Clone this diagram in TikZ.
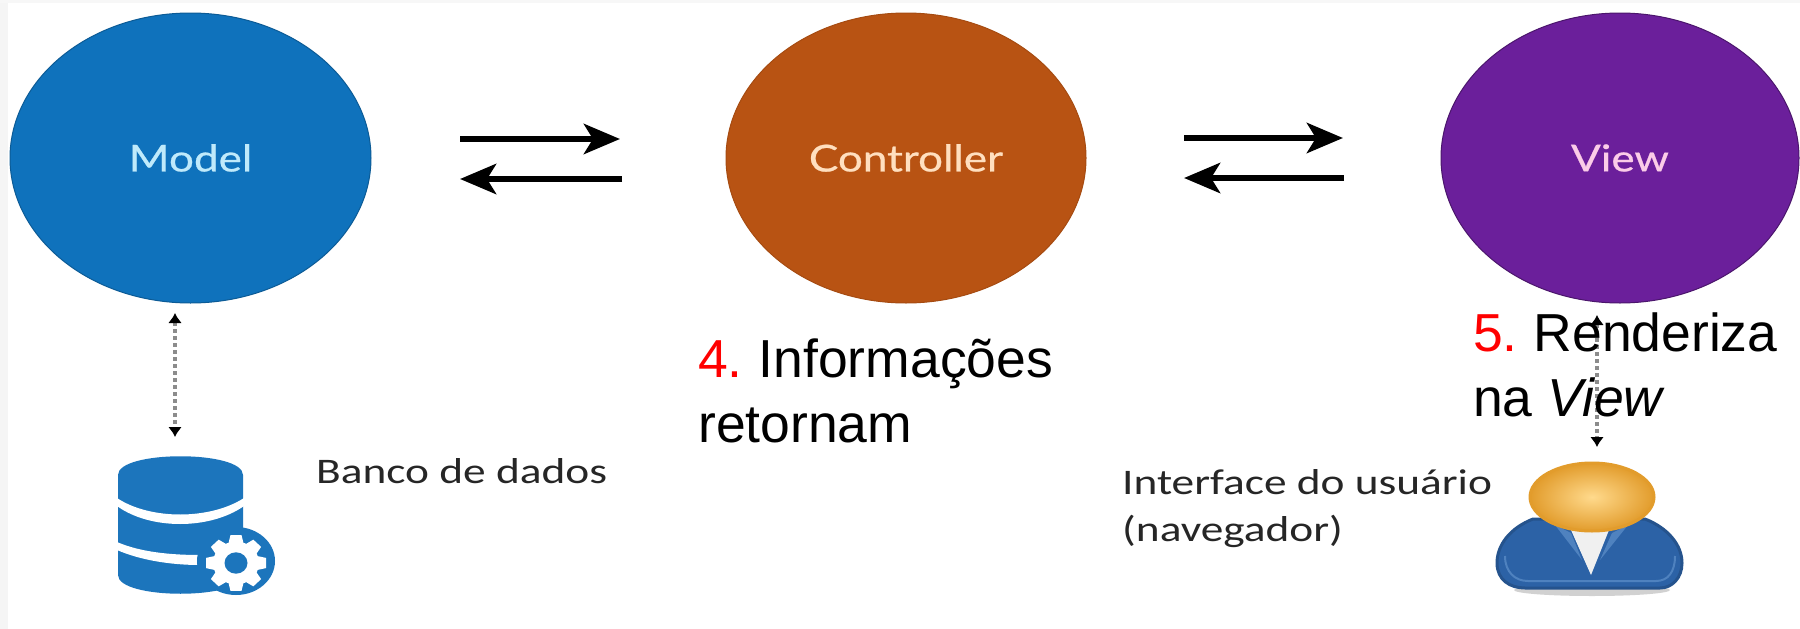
\documentclass[tikz,border=0pt]{standalone}
\usepackage{fontspec}
\setmainfont{Liberation Sans}
\newfontfamily\titlefont[FakeStretch=1.19,FakeBold=0.6]{Lato}
\newfontfamily\labelfont[FakeStretch=1.26]{Carlito}
\usetikzlibrary{shapes.geometric,arrows.meta}
\definecolor{modelblue}{HTML}{0F72BC}
\definecolor{ctrlbrown}{HTML}{B85313}
\definecolor{viewpurple}{HTML}{6B1F9B}
\definecolor{dbblue}{HTML}{1C75BC}
\definecolor{suitblue}{HTML}{2C62A6}
\definecolor{suitedge}{HTML}{4F82BF}
\definecolor{headorange}{HTML}{E29C2C}
\tikzset{
  mvc/.style={ellipse,inner sep=0pt,minimum width=#1,minimum height=290pt,line width=1pt,font=\titlefont\fontsize{37}{44}\selectfont},
  bigarrow/.style={line width=6.5pt,-{Stealth[length=36pt,width=30pt,inset=9pt]}},
  dotarrow/.style={draw=black!45,line width=3.2pt,dash pattern=on 4pt off 3pt,
    {Latex[length=10pt,width=14pt,color=black]}-{Latex[length=10pt,width=14pt,color=black]}},
  caption/.style={anchor=base west,inner sep=0pt,align=left,font=\fontsize{53.5}{64.5}\selectfont},
  smalltext/.style={anchor=base west,inner sep=0pt,align=left,text=black!85,font=\labelfont\fontsize{36}{47}\selectfont}
}
\begin{document}
\begin{tikzpicture}[x=1pt,y=-1pt]
\useasboundingbox (0,0) rectangle (1800,629);
\fill[white] (0,0) rectangle (1800,629);
\fill[black!4] (0,0) rectangle (8,629);
\fill[black!3] (0,0) rectangle (1800,3);

% main circles
\node[mvc=361pt,fill=modelblue,draw=modelblue!80!black,text=cyan!25!white] (model) at (190.5,158) {Model};
\node[mvc=360pt,fill=ctrlbrown,draw=ctrlbrown!90!black,text=orange!25!white] (controller) at (906,158) {Controller};
\node[mvc=358pt,fill=viewpurple,draw=viewpurple!70!black,text=magenta!20!white] (view) at (1620,158) {View};

% horizontal arrows
\coordinate (a1s) at (460,139); \coordinate (a1e) at (620,139);
\coordinate (a2s) at (622,179); \coordinate (a2e) at (460,179);
\coordinate (b1s) at (1184,138); \coordinate (b1e) at (1343,138);
\coordinate (b2s) at (1344,178); \coordinate (b2e) at (1184,178);
\draw[bigarrow] (a1s) -- (a1e);
\draw[bigarrow] (a2s) -- (a2e);
\draw[bigarrow] (b1s) -- (b1e);
\draw[bigarrow] (b2s) -- (b2e);

% database icon
\fill[dbblue] (118,475) .. controls (118,450) and (243,450) .. (243,475)
  -- (243,575) .. controls (243,600) and (118,600) .. (118,575) -- cycle;
\fill[white] (117,498) .. controls (150,520) and (210,520) .. (244,498)
  -- (244,506) .. controls (210,530) and (150,530) .. (117,506) -- cycle;
\fill[white] (117,542) .. controls (140,552) and (170,555) .. (200,555)
  -- (200,565) .. controls (170,565) and (140,560) .. (117,550) -- cycle;
\fill[dbblue] (236,561) ellipse [x radius=39,y radius=34];
\begin{scope}[shift={(236,563)},yscale=0.93]
  \fill[white] (0,0) circle [radius=23];
  \foreach \a in {0,45,...,315}
    \fill[white,rotate=\a] (19,-8) -- (30,-5.5) -- (30,5.5) -- (19,8) -- cycle;
  \fill[dbblue] (0,0) circle [radius=11.5];
\end{scope}

% user icon
\fill[black!18] (1592,590) ellipse [x radius=78,y radius=6];
\draw[draw=suitblue!85!black,fill=suitblue,line width=3pt]
  (1533,519) .. controls (1510,528) and (1497,545) .. (1497,563)
  .. controls (1497,580) and (1510,588) .. (1525,588)
  -- (1660,588) .. controls (1672,588) and (1682,578) .. (1682,563)
  .. controls (1682,545) and (1668,528) .. (1645,519) -- cycle;
\draw[draw=suitedge,line width=2pt]
  (1505,556) .. controls (1505,572) and (1515,581) .. (1528,581)
  -- (1656,581) .. controls (1668,581) and (1675,572) .. (1675,556);
\fill[suitedge] (1555,525) -- (1571,533) -- (1582,560) -- cycle;
\fill[suitedge] (1628,525) -- (1612,533) -- (1600,560) -- cycle;
\fill[black!6] (1571,530) -- (1609,530) -- (1591,575) -- cycle;
\draw[draw=headorange,line width=3pt,inner color=yellow!35!orange!45!white,outer color=headorange]
  (1592,497) ellipse [x radius=62,y radius=34];

% dotted arrows
\coordinate (d1s) at (175,313); \coordinate (d1e) at (175,437);
\coordinate (d2s) at (1597,315); \coordinate (d2e) at (1597,447);
\draw[dotarrow] (d1s) -- (d1e);
\draw[dotarrow] (d2s) -- (d2e);

% texts
\node[caption] (info) at (698,442) {\textcolor{red}{4.}\kern-4pt{} Informações\\retornam};
\node[caption] (render) at (1473,416) {\textcolor{red}{5.}\kern-4pt{} Renderiza\\na \textit{View}};
\node[smalltext] (banco) at (316,483) {Banco de dados};
\node[smalltext] (iface) at (1122,541) {Interface do usuário\\(navegador)};
\end{tikzpicture}
\end{document}
